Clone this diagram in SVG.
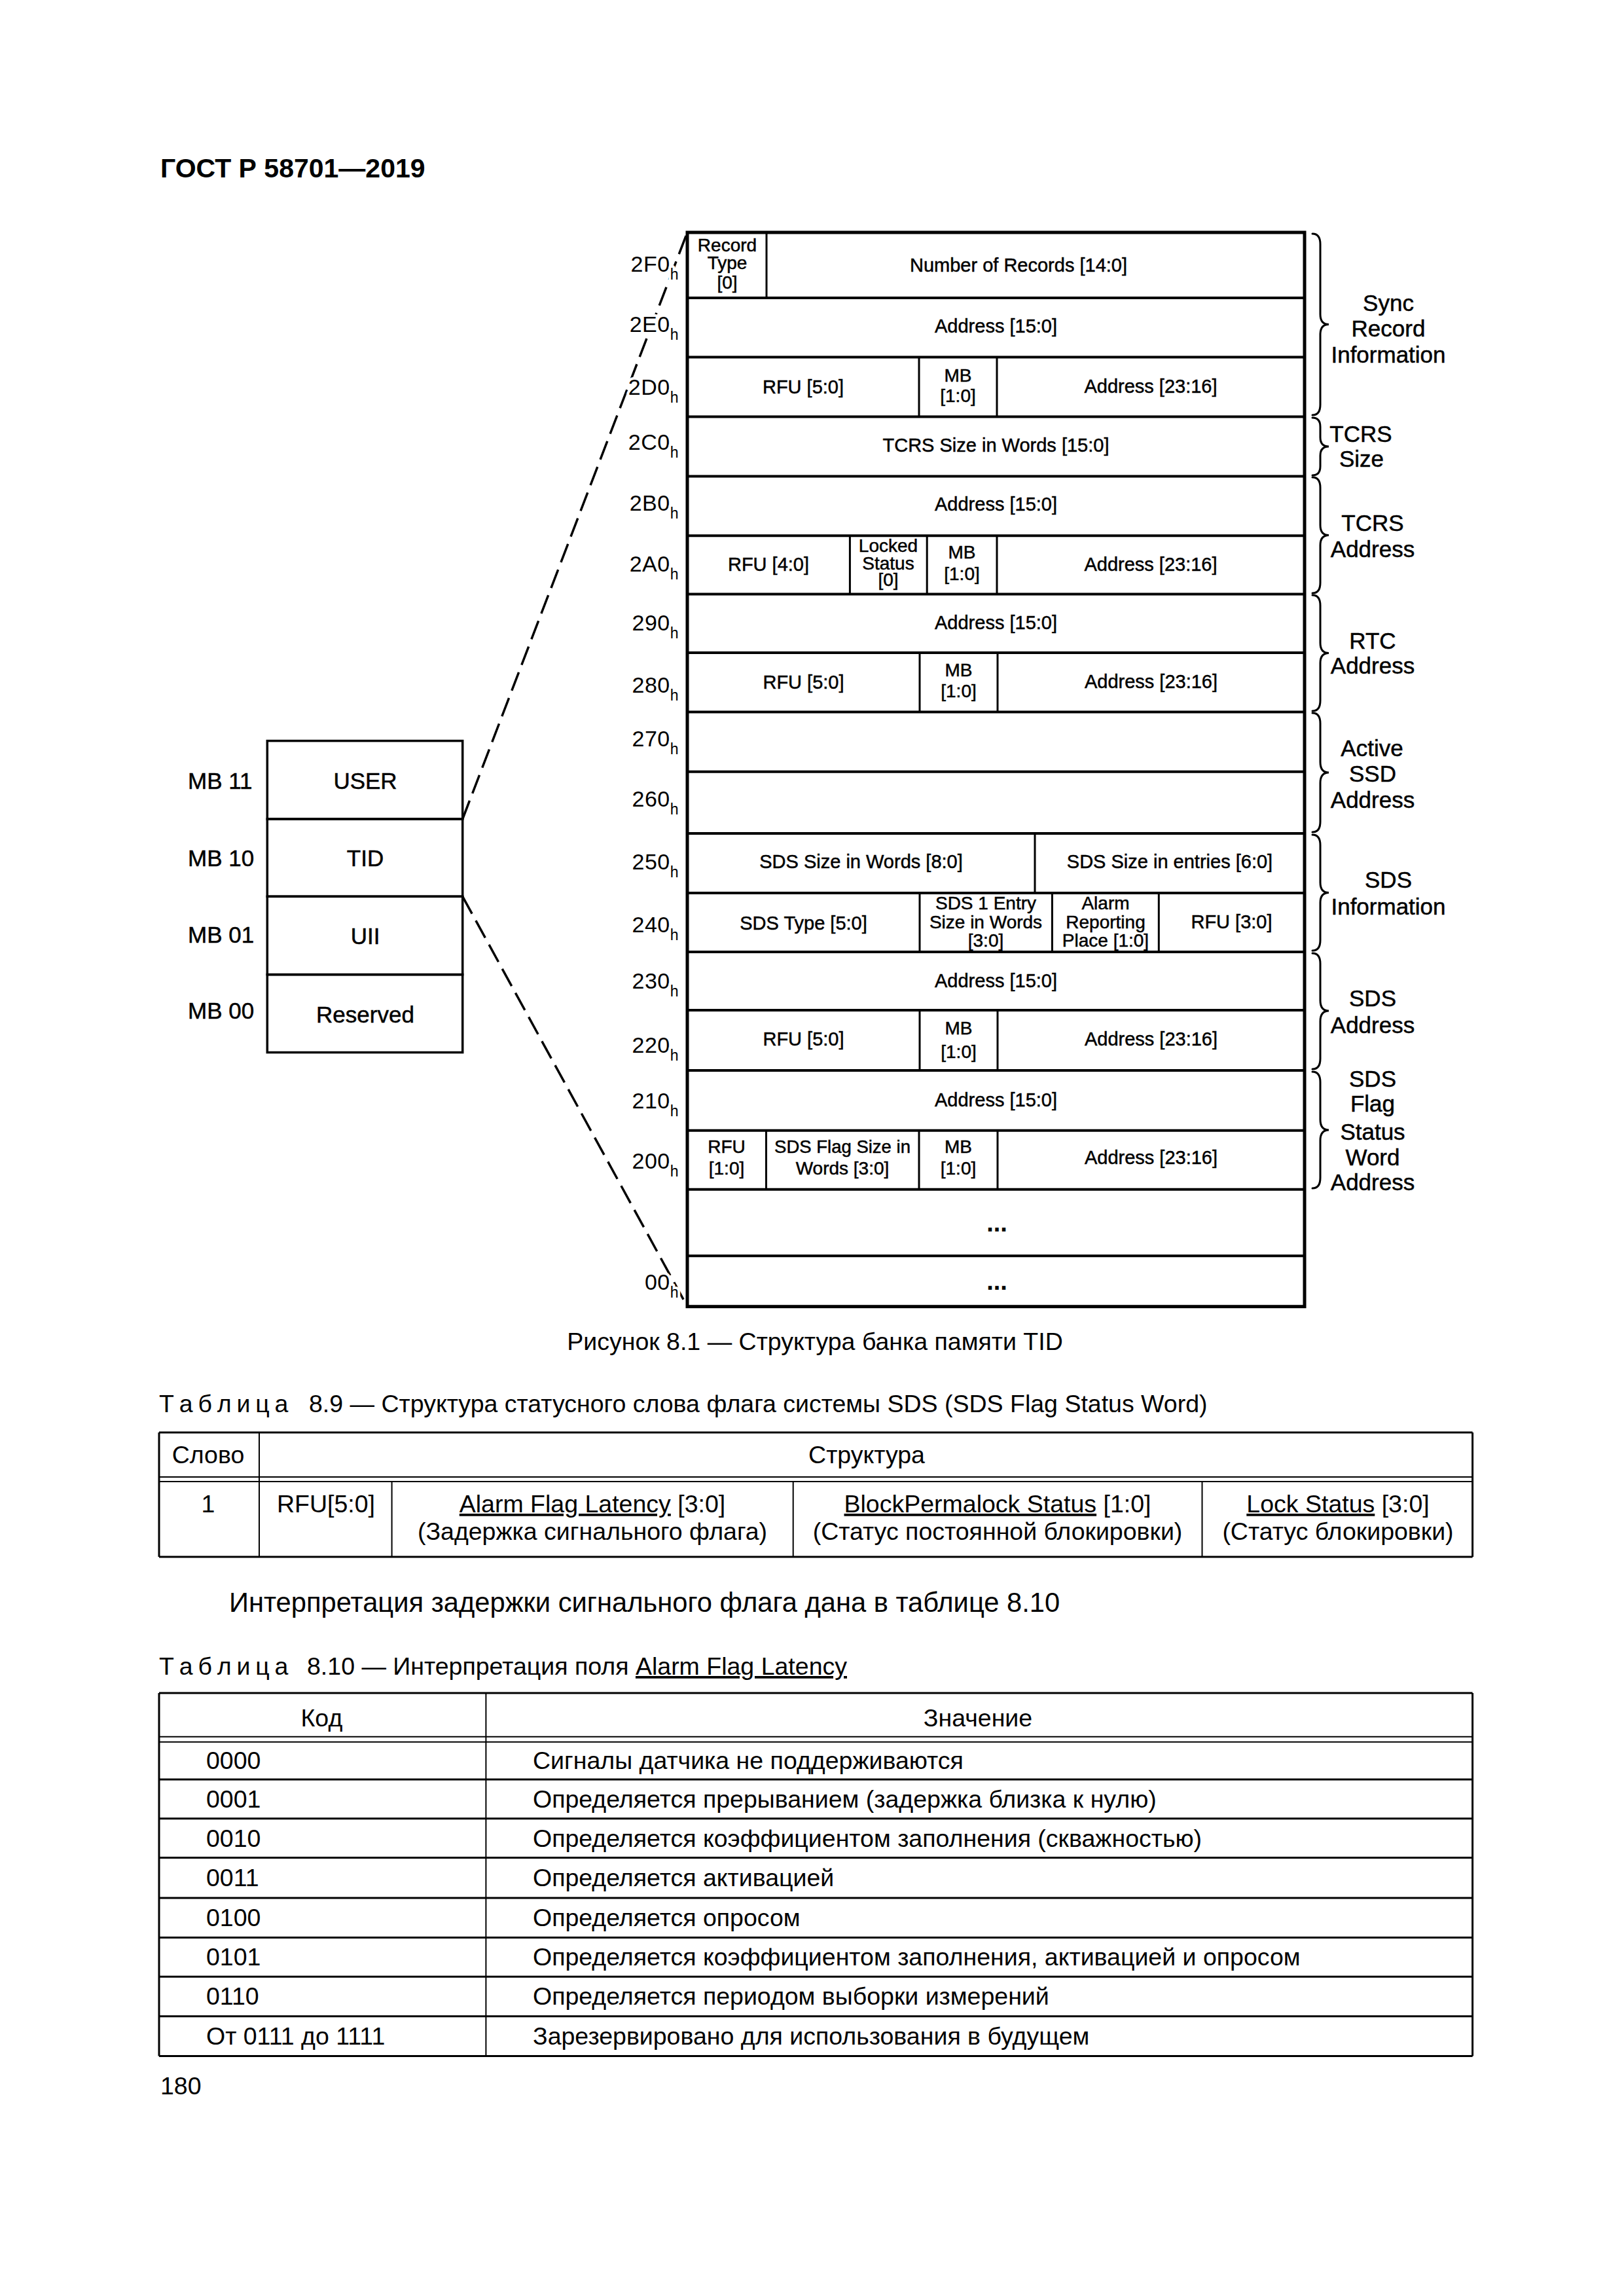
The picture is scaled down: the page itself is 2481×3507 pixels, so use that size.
<svg xmlns="http://www.w3.org/2000/svg" width="2481" height="3507" viewBox="0 0 2481 3507">
<style>
text{font-family:"Liberation Sans",Arial,sans-serif;fill:#000}
.c{font-size:29px;text-anchor:middle;stroke:#000;stroke-width:0.5px}
.s{font-size:28px}
.c27{font-size:27.5px}
.lbl{font-size:34px;text-anchor:end;letter-spacing:0.5px;stroke:#fff;stroke-width:8px;paint-order:stroke;stroke-linejoin:round}
.sub{font-size:23px}
.bl{font-size:35px;text-anchor:middle;stroke:#000;stroke-width:0.5px}
.ml{font-size:35px;stroke:#000;stroke-width:0.5px}
.tb{font-size:37.5px}
.tbm{font-size:37.5px;text-anchor:middle}
.u{text-decoration:underline}
.box{fill:none;stroke:#000;stroke-width:5}
.row{stroke:#000;stroke-width:4}
.div{stroke:#000;stroke-width:3}
.lb{fill:none;stroke:#000;stroke-width:3.5}
.brace{fill:none;stroke:#000;stroke-width:3;stroke-linecap:round}
.dash{fill:none;stroke:#000;stroke-width:3.5;stroke-dasharray:30 12}
.tl{stroke:#000;stroke-width:3}
.tl2{stroke:#000;stroke-width:2}
.dots{font-size:38px;font-weight:bold;text-anchor:middle}
</style>
<rect width="2481" height="3507" fill="#fff"/>

<g id="page-header"><text x="245" y="271" font-size="41" font-weight="bold">ГОСТ Р 58701—2019</text></g>

<g id="connectors">
<line class="dash" x1="706.7" y1="1251" x2="1050" y2="355"/>
<line class="dash" x1="706.7" y1="1369.3" x2="1050" y2="1995.7"/>
</g>

<g id="memory-banks">
<g id="bank-user"><rect class="lb" x="408.3" y="1131.6" width="298.4" height="119.4"/><text class="bl" x="558" y="1205">USER</text><text class="ml" x="287" y="1205">MB 11</text></g>
<g id="bank-tid"><rect class="lb" x="408.3" y="1251" width="298.4" height="118.3"/><text class="bl" x="558" y="1323">TID</text><text class="ml" x="287" y="1323">MB 10</text></g>
<g id="bank-uii"><rect class="lb" x="408.3" y="1369.3" width="298.4" height="119.3"/><text class="bl" x="558" y="1442">UII</text><text class="ml" x="287" y="1440">MB 01</text></g>
<g id="bank-reserved"><rect class="lb" x="408.3" y="1488.6" width="298.4" height="118.9"/><text class="bl" x="558" y="1562">Reserved</text><text class="ml" x="287" y="1556">MB 00</text></g>
</g>

<g id="tid-map">
<rect class="box" x="1050" y="355" width="943" height="1640.7"/>
<g id="row-lines">
<line class="row" x1="1050" y1="455" x2="1993" y2="455"/>
<line class="row" x1="1050" y1="545.5" x2="1993" y2="545.5"/>
<line class="row" x1="1050" y1="636.6" x2="1993" y2="636.6"/>
<line class="row" x1="1050" y1="727.6" x2="1993" y2="727.6"/>
<line class="row" x1="1050" y1="818.3" x2="1993" y2="818.3"/>
<line class="row" x1="1050" y1="907.5" x2="1993" y2="907.5"/>
<line class="row" x1="1050" y1="997" x2="1993" y2="997"/>
<line class="row" x1="1050" y1="1087.6" x2="1993" y2="1087.6"/>
<line class="row" x1="1050" y1="1178.7" x2="1993" y2="1178.7"/>
<line class="row" x1="1050" y1="1273" x2="1993" y2="1273"/>
<line class="row" x1="1050" y1="1364" x2="1993" y2="1364"/>
<line class="row" x1="1050" y1="1454" x2="1993" y2="1454"/>
<line class="row" x1="1050" y1="1543" x2="1993" y2="1543"/>
<line class="row" x1="1050" y1="1635" x2="1993" y2="1635"/>
<line class="row" x1="1050" y1="1726.7" x2="1993" y2="1726.7"/>
<line class="row" x1="1050" y1="1816.7" x2="1993" y2="1816.7"/>
<line class="row" x1="1050" y1="1918.3" x2="1993" y2="1918.3"/>
</g>

<g id="row-2F0">
<line class="div" x1="1171" y1="355" x2="1171" y2="455"/>
<text class="c s" x="1111" y="384">Record</text><text class="c s" x="1111" y="411">Type</text><text class="c s" x="1111" y="441">[0]</text>
<text class="c" x="1556" y="414.6">Number of Records [14:0]</text>
<text class="lbl" x="1037" y="414.6">2F0<tspan class="sub" dy="12">h</tspan></text>
</g>
<g id="row-2E0">
<text class="c" x="1521.5" y="508">Address [15:0]</text>
<text class="lbl" x="1037" y="507">2E0<tspan class="sub" dy="12">h</tspan></text>
</g>
<g id="row-2D0">
<line class="div" x1="1404" y1="545.5" x2="1404" y2="636.6"/><line class="div" x1="1523" y1="545.5" x2="1523" y2="636.6"/>
<text class="c" x="1227" y="601">RFU [5:0]</text>
<text class="c s" x="1463.5" y="583">MB</text><text class="c s" x="1463.5" y="614">[1:0]</text>
<text class="c" x="1758" y="600">Address [23:16]</text>
<text class="lbl" x="1037" y="603">2D0<tspan class="sub" dy="12">h</tspan></text>
</g>
<g id="row-2C0">
<text class="c" x="1521.5" y="690">TCRS Size in Words [15:0]</text>
<text class="lbl" x="1037" y="687">2C0<tspan class="sub" dy="12">h</tspan></text>
</g>
<g id="row-2B0">
<text class="c" x="1521.5" y="780">Address [15:0]</text>
<text class="lbl" x="1037" y="780">2B0<tspan class="sub" dy="12">h</tspan></text>
</g>
<g id="row-2A0">
<line class="div" x1="1298.4" y1="818.3" x2="1298.4" y2="907.5"/><line class="div" x1="1416.2" y1="818.3" x2="1416.2" y2="907.5"/><line class="div" x1="1523" y1="818.3" x2="1523" y2="907.5"/>
<text class="c" x="1174" y="872">RFU [4:0]</text>
<text class="c s" x="1357" y="843">Locked</text><text class="c s" x="1357" y="870">Status</text><text class="c s" x="1357" y="895">[0]</text>
<text class="c s" x="1469.5" y="853">MB</text><text class="c s" x="1469.5" y="886">[1:0]</text>
<text class="c" x="1758" y="872">Address [23:16]</text>
<text class="lbl" x="1037" y="873">2A0<tspan class="sub" dy="12">h</tspan></text>
</g>
<g id="row-290">
<text class="c" x="1521.5" y="961">Address [15:0]</text>
<text class="lbl" x="1037" y="962.5">290<tspan class="sub" dy="12">h</tspan></text>
</g>
<g id="row-280">
<line class="div" x1="1405" y1="997" x2="1405" y2="1087.6"/><line class="div" x1="1524" y1="997" x2="1524" y2="1087.6"/>
<text class="c" x="1227.5" y="1052">RFU [5:0]</text>
<text class="c s" x="1464.5" y="1033">MB</text><text class="c s" x="1464.5" y="1065">[1:0]</text>
<text class="c" x="1758.5" y="1051">Address [23:16]</text>
<text class="lbl" x="1037" y="1058">280<tspan class="sub" dy="12">h</tspan></text>
</g>
<g id="row-270"><text class="lbl" x="1037" y="1140">270<tspan class="sub" dy="12">h</tspan></text></g>
<g id="row-260"><text class="lbl" x="1037" y="1232">260<tspan class="sub" dy="12">h</tspan></text></g>
<g id="row-250">
<line class="div" x1="1581" y1="1273" x2="1581" y2="1364"/>
<text class="c" x="1315.5" y="1326">SDS Size in Words [8:0]</text>
<text class="c" x="1787" y="1326">SDS Size in entries [6:0]</text>
<text class="lbl" x="1037" y="1328">250<tspan class="sub" dy="12">h</tspan></text>
</g>
<g id="row-240">
<line class="div" x1="1405" y1="1364" x2="1405" y2="1454"/><line class="div" x1="1607.4" y1="1364" x2="1607.4" y2="1454"/><line class="div" x1="1770.3" y1="1364" x2="1770.3" y2="1454"/>
<text class="c" x="1227.5" y="1420">SDS Type [5:0]</text>
<text class="c s" x="1506" y="1389">SDS 1 Entry</text><text class="c s" x="1506" y="1418">Size in Words</text><text class="c s" x="1506" y="1446">[3:0]</text>
<text class="c s" x="1689" y="1389">Alarm</text><text class="c s" x="1689" y="1418">Reporting</text><text class="c s" x="1689" y="1446">Place [1:0]</text>
<text class="c" x="1881.5" y="1418">RFU [3:0]</text>
<text class="lbl" x="1037" y="1424">240<tspan class="sub" dy="12">h</tspan></text>
</g>
<g id="row-230">
<text class="c" x="1521.5" y="1508">Address [15:0]</text>
<text class="lbl" x="1037" y="1510">230<tspan class="sub" dy="12">h</tspan></text>
</g>
<g id="row-220">
<line class="div" x1="1405" y1="1543" x2="1405" y2="1635"/><line class="div" x1="1524" y1="1543" x2="1524" y2="1635"/>
<text class="c" x="1227.5" y="1597">RFU [5:0]</text>
<text class="c s" x="1464.5" y="1580">MB</text><text class="c s" x="1464.5" y="1616">[1:0]</text>
<text class="c" x="1758.5" y="1597">Address [23:16]</text>
<text class="lbl" x="1037" y="1608">220<tspan class="sub" dy="12">h</tspan></text>
</g>
<g id="row-210">
<text class="c" x="1521.5" y="1690">Address [15:0]</text>
<text class="lbl" x="1037" y="1693">210<tspan class="sub" dy="12">h</tspan></text>
</g>
<g id="row-200">
<line class="div" x1="1170.5" y1="1726.7" x2="1170.5" y2="1816.7"/><line class="div" x1="1404" y1="1726.7" x2="1404" y2="1816.7"/><line class="div" x1="1524" y1="1726.7" x2="1524" y2="1816.7"/>
<text class="c s" x="1110" y="1761">RFU</text><text class="c s" x="1110" y="1794">[1:0]</text>
<text class="c c27" x="1287" y="1761">SDS Flag Size in</text><text class="c s" x="1287" y="1794">Words [3:0]</text>
<text class="c s" x="1464" y="1761">MB</text><text class="c s" x="1464" y="1794">[1:0]</text>
<text class="c" x="1758.5" y="1778">Address [23:16]</text>
<text class="lbl" x="1037" y="1785">200<tspan class="sub" dy="12">h</tspan></text>
</g>
<g id="row-gap"><text class="dots" x="1523" y="1881">...</text></g>
<g id="row-00">
<text class="dots" x="1523" y="1970">...</text>
<text class="lbl" x="1037" y="1970">00<tspan class="sub" dy="12">h</tspan></text>
</g>
</g>

<g id="braces">
<g id="brace-sync"><path class="brace" d="M2005 357 Q2017 357 2017 373 L2017 480 Q2017 495.5 2030 495.5 Q2017 495.5 2017 511 L2017 618 Q2017 634 2005 634"/>
<text class="bl" x="2121" y="475">Sync</text><text class="bl" x="2121" y="514">Record</text><text class="bl" x="2121" y="554">Information</text></g>
<g id="brace-tcrs-size"><path class="brace" d="M2005 638 Q2017 638 2017 652 L2017 668 Q2017 682 2030 682 Q2017 682 2017 696 L2017 712 Q2017 726 2005 726"/>
<text class="bl" x="2079" y="675">TCRS</text><text class="bl" x="2080" y="713">Size</text></g>
<g id="brace-tcrs-address"><path class="brace" d="M2005 729 Q2017 729 2017 745 L2017 802 Q2017 817.5 2030 817.5 Q2017 817.5 2017 833 L2017 890 Q2017 906 2005 906"/>
<text class="bl" x="2097" y="811">TCRS</text><text class="bl" x="2097" y="851">Address</text></g>
<g id="brace-rtc"><path class="brace" d="M2005 909 Q2017 909 2017 925 L2017 982 Q2017 997.5 2030 997.5 Q2017 997.5 2017 1013 L2017 1070 Q2017 1086 2005 1086"/>
<text class="bl" x="2097" y="991">RTC</text><text class="bl" x="2097" y="1029">Address</text></g>
<g id="brace-active-ssd"><path class="brace" d="M2005 1089 Q2017 1089 2017 1105 L2017 1164 Q2017 1180 2030 1180 Q2017 1180 2017 1196 L2017 1255 Q2017 1271 2005 1271"/>
<text class="bl" x="2096" y="1155">Active</text><text class="bl" x="2097" y="1194">SSD</text><text class="bl" x="2097" y="1234">Address</text></g>
<g id="brace-sds-info"><path class="brace" d="M2005 1275 Q2017 1275 2017 1291 L2017 1348 Q2017 1363.5 2030 1363.5 Q2017 1363.5 2017 1379 L2017 1436 Q2017 1452 2005 1452"/>
<text class="bl" x="2121" y="1356">SDS</text><text class="bl" x="2121" y="1397">Information</text></g>
<g id="brace-sds-address"><path class="brace" d="M2005 1456 Q2017 1456 2017 1472 L2017 1528 Q2017 1544 2030 1544 Q2017 1544 2017 1560 L2017 1617 Q2017 1633 2005 1633"/>
<text class="bl" x="2097" y="1537">SDS</text><text class="bl" x="2097" y="1578">Address</text></g>
<g id="brace-sds-flag"><path class="brace" d="M2005 1637 Q2017 1637 2017 1653 L2017 1710 Q2017 1726 2030 1726 Q2017 1726 2017 1742 L2017 1799 Q2017 1815 2005 1815"/>
<text class="bl" x="2097" y="1660">SDS</text><text class="bl" x="2097" y="1698">Flag</text><text class="bl" x="2097" y="1741">Status</text><text class="bl" x="2097" y="1780">Word</text><text class="bl" x="2097" y="1818">Address</text></g>
</g>

<g id="figure-caption"><text class="tbm" x="1245" y="2062">Рисунок 8.1 — Структура банка памяти TID</text></g>

<g id="table-8-9">
<text class="tb" x="243" y="2157"><tspan letter-spacing="-1.3">Т а б л и ц а</tspan><tspan x="472">8.9 — Структура статусного слова флага системы SDS (SDS Flag Status Word)</tspan></text>
<line class="tl" x1="243" y1="2188" x2="2249.6" y2="2188"/>
<line class="tl2" x1="243" y1="2256" x2="2249.6" y2="2256"/>
<line class="tl2" x1="243" y1="2263" x2="2249.6" y2="2263"/>
<line class="tl" x1="243" y1="2378" x2="2249.6" y2="2378"/>
<line class="tl" x1="243" y1="2188" x2="243" y2="2378"/>
<line class="tl" x1="2249.6" y1="2188" x2="2249.6" y2="2378"/>
<line class="tl2" x1="396" y1="2188" x2="396" y2="2378"/>
<line class="tl2" x1="598.6" y1="2263" x2="598.6" y2="2378"/>
<line class="tl2" x1="1211.7" y1="2263" x2="1211.7" y2="2378"/>
<line class="tl2" x1="1836.5" y1="2263" x2="1836.5" y2="2378"/>
<text class="tbm" x="318" y="2235">Слово</text>
<text class="tbm" x="1324" y="2235">Структура</text>
<text class="tbm" x="318" y="2310">1</text>
<text class="tbm" x="498" y="2310">RFU[5:0]</text>
<text class="tbm" x="905" y="2310"><tspan class="u">Alarm Flag Latency</tspan> [3:0]</text>
<text class="tbm" x="905" y="2352">(Задержка сигнального флага)</text>
<text class="tbm" x="1524" y="2310"><tspan class="u">BlockPermalock Status</tspan> [1:0]</text>
<text class="tbm" x="1524" y="2352">(Статус постоянной блокировки)</text>
<text class="tbm" x="2044" y="2310"><tspan class="u">Lock Status</tspan> [3:0]</text>
<text class="tbm" x="2044" y="2352">(Статус блокировки)</text>
</g>

<g id="paragraph"><text x="350" y="2462" font-size="41.7">Интерпретация задержки сигнального флага дана в таблице 8.10</text></g>

<g id="table-8-10">
<text class="tb" x="243" y="2558"><tspan letter-spacing="-1.3">Т а б л и ц а</tspan><tspan x="469">8.10 — Интерпретация поля </tspan><tspan class="u">Alarm Flag Latency</tspan></text>
<line class="tl" x1="243" y1="2586" x2="2249.6" y2="2586"/>
<line class="tl2" x1="243" y1="2652.7" x2="2249.6" y2="2652.7"/>
<line class="tl2" x1="243" y1="2660.7" x2="2249.6" y2="2660.7"/>
<line class="tl" x1="243" y1="2718" x2="2249.6" y2="2718"/>
<line class="tl" x1="243" y1="2777.7" x2="2249.6" y2="2777.7"/>
<line class="tl" x1="243" y1="2837.6" x2="2249.6" y2="2837.6"/>
<line class="tl" x1="243" y1="2899" x2="2249.6" y2="2899"/>
<line class="tl" x1="243" y1="2959.4" x2="2249.6" y2="2959.4"/>
<line class="tl" x1="243" y1="3019.3" x2="2249.6" y2="3019.3"/>
<line class="tl" x1="243" y1="3079.7" x2="2249.6" y2="3079.7"/>
<line class="tl" x1="243" y1="3140.6" x2="2249.6" y2="3140.6"/>
<line class="tl" x1="243" y1="2586" x2="243" y2="3140.6"/>
<line class="tl2" x1="742.4" y1="2586" x2="742.4" y2="3140.6"/>
<line class="tl" x1="2249.6" y1="2586" x2="2249.6" y2="3140.6"/>
<text class="tbm" x="491.4" y="2637">Код</text>
<text class="tbm" x="1494" y="2637">Значение</text>
<text class="tb" x="315" y="2702">0000</text><text class="tb" x="814" y="2702">Сигналы датчика не поддерживаются</text>
<text class="tb" x="315" y="2761">0001</text><text class="tb" x="814" y="2761">Определяется прерыванием (задержка близка к нулю)</text>
<text class="tb" x="315" y="2821">0010</text><text class="tb" x="814" y="2821">Определяется коэффициентом заполнения (скважностью)</text>
<text class="tb" x="315" y="2881">0011</text><text class="tb" x="814" y="2881">Определяется активацией</text>
<text class="tb" x="315" y="2942">0100</text><text class="tb" x="814" y="2942">Определяется опросом</text>
<text class="tb" x="315" y="3002">0101</text><text class="tb" x="814" y="3002">Определяется коэффициентом заполнения, активацией и опросом</text>
<text class="tb" x="315" y="3062">0110</text><text class="tb" x="814" y="3062">Определяется периодом выборки измерений</text>
<text class="tb" x="315" y="3123">От 0111 до 1111</text><text class="tb" x="814" y="3123">Зарезервировано для использования в будущем</text>
</g>

<g id="page-number"><text class="tb" x="245" y="3199">180</text></g>
</svg>
